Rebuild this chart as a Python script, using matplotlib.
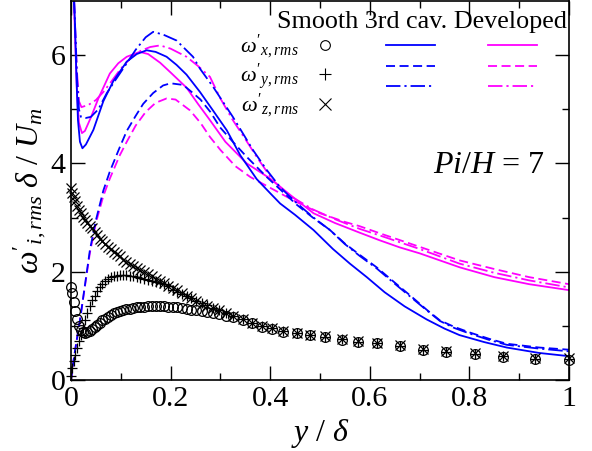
import numpy as np
import matplotlib
matplotlib.use("Agg")
import matplotlib.pyplot as plt
from matplotlib.lines import Line2D

plt.rcParams['font.family'] = ['Liberation Serif', 'DejaVu Serif']
plt.rcParams['mathtext.fontset'] = 'custom'
plt.rcParams['mathtext.rm'] = 'Liberation Serif'
plt.rcParams['mathtext.it'] = 'Liberation Serif:italic'

# Smooth channel (markers), shared y/delta positions
y_pts = [0.000, 0.003, 0.006, 0.009, 0.013, 0.017, 0.021, 0.025, 0.029, 0.033,
         0.038, 0.043, 0.048, 0.053, 0.058, 0.063, 0.068, 0.074, 0.080, 0.086,
         0.092, 0.098, 0.104, 0.111, 0.118, 0.125, 0.132, 0.139, 0.146, 0.154,
         0.162, 0.170, 0.178, 0.186, 0.195, 0.204, 0.213, 0.222, 0.232, 0.242,
         0.252, 0.263, 0.274, 0.286, 0.298, 0.311, 0.326, 0.346, 0.364, 0.384,
         0.404, 0.426, 0.454, 0.480, 0.510, 0.544, 0.576, 0.614, 0.660, 0.707,
         0.754, 0.811, 0.868, 0.932, 1.000]
smooth_wx = [1.72, 1.60, 1.45, 1.28, 1.12, 1.00, 0.92, 0.88, 0.87, 0.88,
             0.91, 0.94, 0.98, 1.02, 1.06, 1.10, 1.13, 1.17, 1.20, 1.23,
             1.25, 1.27, 1.29, 1.31, 1.32, 1.33, 1.34, 1.35, 1.35, 1.36,
             1.36, 1.36, 1.36, 1.36, 1.35, 1.35, 1.34, 1.33, 1.32, 1.30,
             1.29, 1.27, 1.25, 1.23, 1.21, 1.18, 1.16, 1.11, 1.05, 0.98,
             0.95, 0.89, 0.86, 0.83, 0.80, 0.74, 0.71, 0.68, 0.63, 0.55,
             0.51, 0.48, 0.43, 0.38, 0.37]
smooth_wy = [0.08, 0.22, 0.35, 0.47, 0.60, 0.72, 0.84, 0.96, 1.10, 1.24,
             1.36, 1.47, 1.56, 1.65, 1.72, 1.78, 1.83, 1.87, 1.90, 1.92,
             1.93, 1.94, 1.94, 1.94, 1.93, 1.92, 1.91, 1.89, 1.87, 1.85,
             1.83, 1.81, 1.80, 1.77, 1.73, 1.67, 1.63, 1.59, 1.55, 1.51,
             1.46, 1.42, 1.38, 1.33, 1.29, 1.24, 1.19, 1.12, 1.06, 0.99,
             0.96, 0.90, 0.87, 0.83, 0.80, 0.75, 0.71, 0.68, 0.63, 0.56,
             0.52, 0.48, 0.44, 0.39, 0.38]
smooth_wz = [3.54, 3.46, 3.38, 3.30, 3.22, 3.14, 3.08, 3.01, 2.95, 2.90,
             2.85, 2.80, 2.73, 2.67, 2.61, 2.56, 2.51, 2.46, 2.42, 2.37,
             2.33, 2.29, 2.22, 2.18, 2.14, 2.10, 2.06, 2.03, 2.00, 1.96,
             1.92, 1.87, 1.83, 1.79, 1.74, 1.70, 1.66, 1.61, 1.56, 1.51,
             1.46, 1.41, 1.37, 1.33, 1.29, 1.24, 1.19, 1.12, 1.06, 1.00,
             0.96, 0.91, 0.87, 0.84, 0.81, 0.76, 0.72, 0.69, 0.64, 0.57,
             0.53, 0.49, 0.45, 0.41, 0.40]

# 3rd cavity (blue)
cav_wx_y = [0.0, 0.004, 0.008, 0.011, 0.014, 0.018, 0.023, 0.030, 0.045, 0.065,
            0.085, 0.112, 0.132, 0.152, 0.170, 0.192, 0.212, 0.232, 0.259, 0.285,
            0.313, 0.340, 0.373, 0.400, 0.420, 0.450, 0.487, 0.526, 0.560, 0.594,
            0.630, 0.670, 0.714, 0.750, 0.780, 0.830, 0.875, 0.940, 1.000]
cav_wx = [8.6, 7.5, 6.6, 5.6, 4.8, 4.4, 4.28, 4.35, 4.62, 5.15,
          5.52, 5.88, 6.02, 6.09, 6.06, 5.97, 5.82, 5.64, 5.32, 4.98,
          4.61, 4.15, 3.71, 3.45, 3.26, 3.05, 2.77, 2.42, 2.15, 1.90,
          1.62, 1.36, 1.12, 0.95, 0.83, 0.70, 0.60, 0.50, 0.44]
cav_wy_y = [0.0, 0.005, 0.010, 0.018, 0.028, 0.038, 0.050, 0.065, 0.078, 0.098,
            0.112, 0.130, 0.145, 0.165, 0.185, 0.200, 0.225, 0.245, 0.260, 0.280,
            0.299, 0.325, 0.353, 0.393, 0.420, 0.453, 0.487, 0.520, 0.550, 0.580,
            0.614, 0.650, 0.680, 0.714, 0.741, 0.770, 0.800, 0.840, 0.875, 0.940,
            1.000]
cav_wy = [0.0, 0.35, 0.65, 1.10, 1.75, 2.40, 2.95, 3.50, 3.85, 4.30,
          4.60, 4.88, 5.10, 5.30, 5.44, 5.48, 5.45, 5.30, 5.18, 4.95,
          4.67, 4.40, 4.12, 3.75, 3.52, 3.24, 2.99, 2.77, 2.52, 2.31,
          2.08, 1.80, 1.57, 1.30, 1.10, 0.98, 0.88, 0.76, 0.67, 0.60,
          0.56]
cav_wz_y = [0.0, 0.004, 0.008, 0.012, 0.016, 0.020, 0.030, 0.040, 0.055, 0.072,
            0.090, 0.112, 0.130, 0.150, 0.165, 0.185, 0.212, 0.245, 0.259, 0.285,
            0.325, 0.366, 0.393, 0.420, 0.453, 0.487, 0.520, 0.550, 0.580, 0.614,
            0.650, 0.680, 0.714, 0.741, 0.770, 0.800, 0.840, 0.875, 0.940, 1.000]
cav_wz = [8.6, 7.6, 6.6, 5.6, 5.0, 4.86, 4.84, 4.86, 5.00, 5.30,
          5.55, 5.85, 6.10, 6.33, 6.43, 6.38, 6.27, 5.97, 5.75, 5.42,
          4.86, 4.24, 3.88, 3.56, 3.27, 3.00, 2.77, 2.51, 2.29, 2.06,
          1.78, 1.55, 1.29, 1.09, 0.96, 0.86, 0.74, 0.65, 0.58, 0.53]

# Developed (magenta)
dev_wx_y = [0.0, 0.004, 0.008, 0.012, 0.016, 0.022, 0.028, 0.040, 0.055, 0.078,
            0.095, 0.112, 0.138, 0.155, 0.179, 0.200, 0.232, 0.255, 0.279, 0.310,
            0.353, 0.400, 0.440, 0.487, 0.530, 0.580, 0.620, 0.660, 0.700, 0.781,
            0.850, 0.920, 1.000]
dev_wx = [8.6, 7.5, 6.4, 5.3, 4.75, 4.56, 4.60, 4.85, 5.20, 5.66,
          5.85, 5.97, 6.06, 6.02, 5.86, 5.68, 5.40, 5.10, 4.80, 4.40,
          4.00, 3.72, 3.42, 3.08, 2.90, 2.72, 2.58, 2.45, 2.34, 2.08,
          1.90, 1.77, 1.66]
dev_wy_y = [0.0, 0.005, 0.010, 0.018, 0.028, 0.038, 0.050, 0.065, 0.078, 0.098,
            0.112, 0.130, 0.150, 0.170, 0.192, 0.210, 0.239, 0.260, 0.279, 0.300,
            0.330, 0.360, 0.400, 0.450, 0.500, 0.550, 0.580, 0.620, 0.700, 0.780,
            0.850, 0.920, 1.000]
dev_wy = [0.0, 0.35, 0.65, 1.10, 1.73, 2.35, 2.90, 3.40, 3.72, 4.15,
          4.40, 4.70, 4.95, 5.12, 5.20, 5.18, 4.98, 4.75, 4.49, 4.25,
          3.95, 3.75, 3.55, 3.30, 3.08, 2.92, 2.84, 2.71, 2.46, 2.21,
          2.05, 1.90, 1.77]
dev_wz_y = [0.0, 0.004, 0.008, 0.012, 0.016, 0.021, 0.035, 0.050, 0.065, 0.080,
            0.100, 0.120, 0.140, 0.159, 0.179, 0.200, 0.232, 0.255, 0.279, 0.300,
            0.325, 0.350, 0.373, 0.406, 0.440, 0.486, 0.530, 0.580, 0.620, 0.700,
            0.780, 0.850, 0.920, 1.000]
dev_wz = [8.6, 7.6, 6.6, 5.7, 5.15, 5.04, 5.08, 5.17, 5.32, 5.50,
          5.75, 5.95, 6.08, 6.15, 6.18, 6.12, 5.97, 5.80, 5.60, 5.20,
          4.80, 4.45, 4.12, 3.68, 3.40, 3.15, 2.97, 2.79, 2.67, 2.42,
          2.15, 1.98, 1.84, 1.71]

BLUE = '#0000ff'
MAG = '#ff00ff'
lw = 1.3
dash = (0, (5, 2.5))
dashdot = (0, (8, 2.2, 1.2, 2.2))

fig = plt.figure(figsize=(5.92, 4.51), dpi=100)
ax = fig.add_axes([0.1199, 0.1574, 0.8412, 0.8404])

# lines
ax.plot(dev_wx_y, dev_wx, color=MAG, lw=lw, ls='-')
ax.plot(dev_wy_y, dev_wy, color=MAG, lw=lw, ls=dash)
ax.plot(dev_wz_y, dev_wz, color=MAG, lw=lw, ls=dashdot)
ax.plot(cav_wx_y, cav_wx, color=BLUE, lw=lw, ls='-')
ax.plot(cav_wy_y, cav_wy, color=BLUE, lw=lw, ls=dash)
ax.plot(cav_wz_y, cav_wz, color=BLUE, lw=lw, ls=dashdot)

# markers
mk = dict(ls='none', color='k', ms=7, mew=0.9, clip_on=False)
ax.plot(y_pts, smooth_wx, marker='o', mfc='none', **mk)
ax.plot(y_pts, smooth_wy, marker='+', **mk)
ax.plot(y_pts, smooth_wz, marker='x', **mk)

ax.set_xlim(0, 1)
ax.set_ylim(0, 7)
ax.set_xticks([0, 0.2, 0.4, 0.6, 0.8, 1.0])
ax.set_xticklabels(['0', '0.2', '0.4', '0.6', '0.8', '1'])
ax.set_xticks(np.arange(0.1, 1.0, 0.2), minor=True)
ax.set_yticks([0, 2, 4, 6])
ax.set_yticks([1, 3, 5], minor=True)
ax.tick_params(which='both', direction='in', top=True, right=True,
               labelsize=21.5, width=1.0, pad=4)
ax.tick_params(which='major', length=10)
ax.tick_params(which='minor', length=5)
for s in ax.spines.values():
    s.set_linewidth(1.2)

ax.set_xlabel(r'$y\ /\ \delta$', fontsize=23, labelpad=4)
ax.set_ylabel(r"$\omega'_{i,rms}\ \delta\ /\ U_m$", fontsize=23, labelpad=2)

ax.text(0.952, 0.565, r'$Pi/H$ = 7', transform=ax.transAxes, fontsize=23,
        ha='right', va='center')

# legend
handles = [
    Line2D([], [], ls='none', marker='o', mfc='none', color='k', ms=7, mew=0.8),
    Line2D([], [], ls='none', marker='+', color='k', ms=9, mew=0.8),
    Line2D([], [], ls='none', marker='x', color='k', ms=8, mew=0.8),
    Line2D([], [], color=BLUE, lw=lw, ls='-'),
    Line2D([], [], color=BLUE, lw=lw, ls=dash),
    Line2D([], [], color=BLUE, lw=lw, ls=dashdot),
    Line2D([], [], color=MAG, lw=lw, ls='-'),
    Line2D([], [], color=MAG, lw=lw, ls=dash),
    Line2D([], [], color=MAG, lw=lw, ls=dashdot),
]
labels = [r"$\omega'_{x,rms}$", r"$\omega'_{y,rms}$", r"$\omega'_{z,rms}$",
          '', '', '', '   ', '   ', '   ']
ax.legend(handles, labels, ncol=3, markerfirst=False, frameon=False,
          fontsize=16, loc='upper right', bbox_to_anchor=(0.936, 0.915),
          borderaxespad=0, borderpad=0, handlelength=2.2, handletextpad=0.05,
          columnspacing=1.6, labelspacing=0.0)

ax.text(0.995, 0.945, 'Smooth 3rd cav. Developed', transform=ax.transAxes,
        fontsize=18.8, ha='right', va='center')

fig.savefig('out.png', dpi=100)
